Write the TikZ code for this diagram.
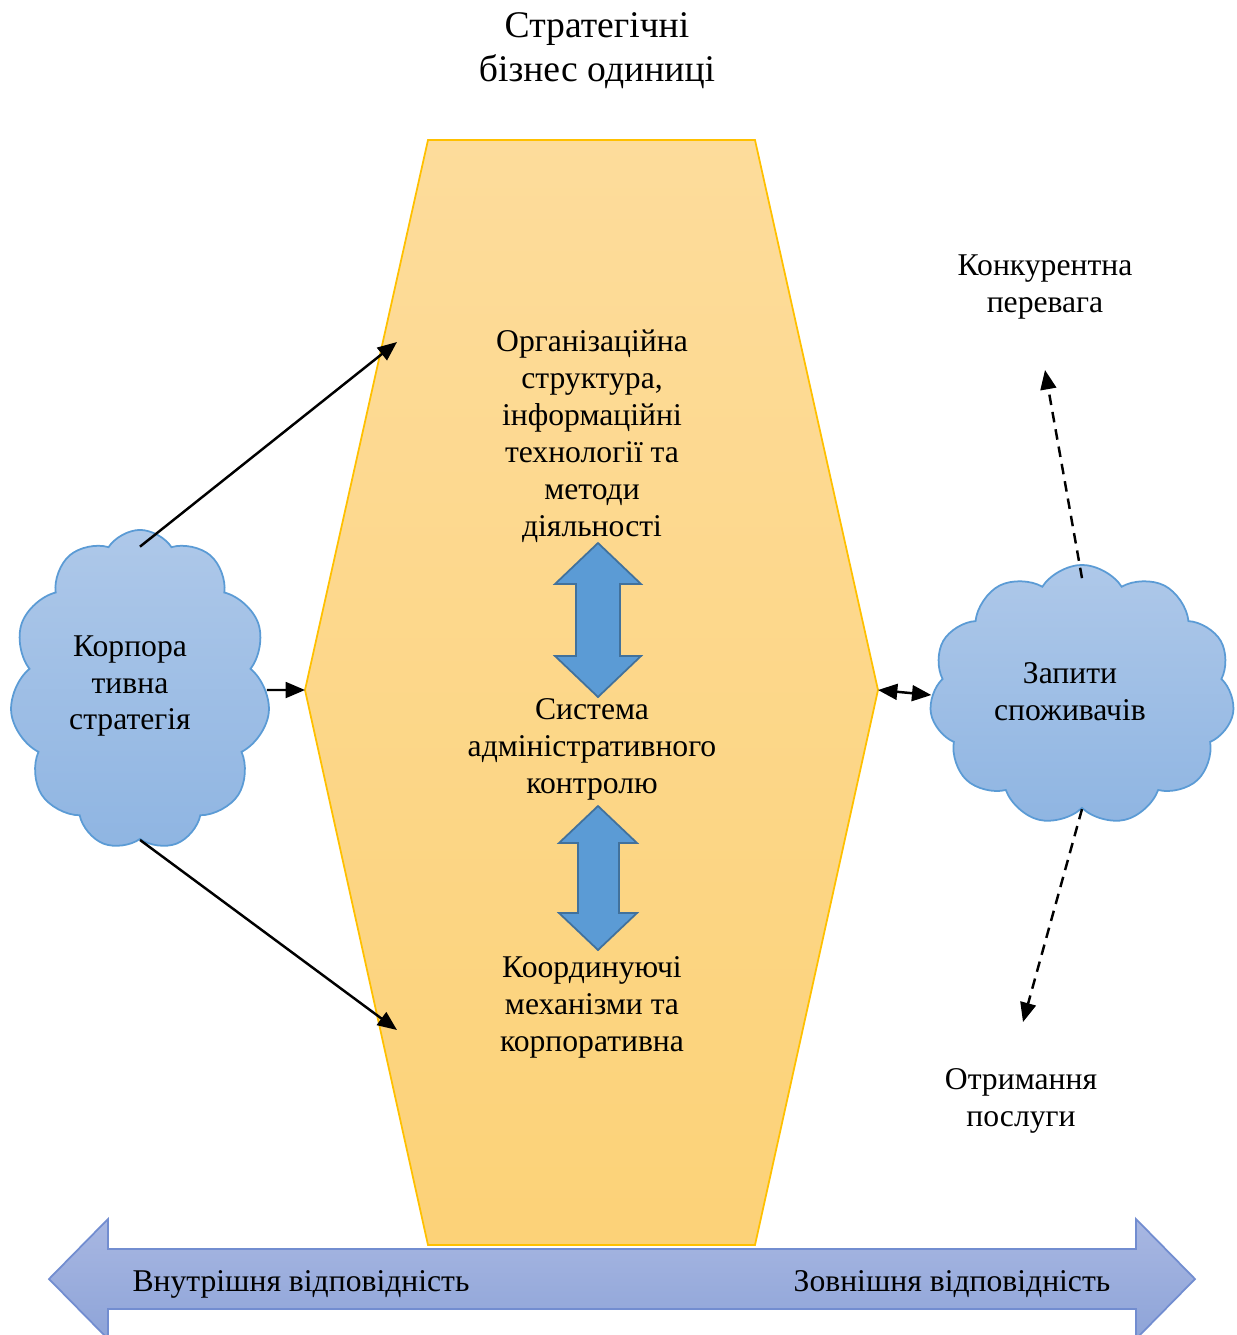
\documentclass[tikz,border=0pt]{standalone}
\usepackage{fontspec}
\setmainfont{Liberation Serif}
\usetikzlibrary{shapes.symbols,arrows.meta}

\definecolor{hexTop}{RGB}{253,220,155}
\definecolor{hexBot}{RGB}{252,210,120}
\definecolor{hexLine}{RGB}{255,192,0}
\definecolor{cloudTop}{RGB}{174,200,233}
\definecolor{cloudBot}{RGB}{143,181,226}
\definecolor{cloudLine}{RGB}{91,155,213}
\definecolor{arrFill}{RGB}{91,155,213}
\definecolor{arrLine}{RGB}{65,113,156}
\definecolor{bandTop}{RGB}{168,183,226}
\definecolor{bandBot}{RGB}{142,164,216}
\definecolor{bandLine}{RGB}{114,141,208}

\begin{document}
\begin{tikzpicture}[x=0.01cm, y=-0.01cm]
	% Стилі
	\tikzstyle{txt} = [align=center, inner sep=0pt, font=\fontsize{9}{10.5}\selectfont]
	\tikzstyle{hmara} = [cloud, cloud puffs=11, cloud puff arc=115, cloud ignores aspect,
		draw=cloudLine, line width=0.5pt, top color=cloudTop, bottom color=cloudBot]
	\tikzstyle{line} = [draw, line width=0.7pt, -{Triangle[length=5.5pt, width=4.5pt]}]
	\tikzstyle{dline} = [line, dash pattern=on 3pt off 2pt]
	\tikzstyle{bluearrow} = [draw=arrLine, fill=arrFill, line width=0.5pt, line join=miter]

	\useasboundingbox (0,0) rectangle (1237,1335);

	% Шестикутник
	\path [draw=hexLine, line width=0.5pt, top color=hexTop, bottom color=hexBot]
		(428,140) -- (755,140) -- (878,690) -- (755,1245) -- (428,1245) -- (305,690) -- cycle;
	\coordinate (hexW) at (305,690);
	\coordinate (hexE) at (878,690);
	\coordinate (hexNW) at (397,342);
	\coordinate (hexSW) at (397,1030);

	% Нижня стрілка
	\path [draw=bandLine, line width=0.5pt, top color=bandTop, bottom color=bandBot]
		(49,1279) -- (108,1219) -- (108,1249) -- (1136,1249) -- (1136,1219) -- (1195,1279)
		-- (1136,1339) -- (1136,1309) -- (108,1309) -- (108,1339) -- cycle;

	% Сині стрілки
	\path [bluearrow] (598,543) -- (641,584) -- (620,584) -- (620,656) -- (641,656) -- (598,697)
		-- (555,656) -- (576,656) -- (576,584) -- (555,584) -- cycle;
	\path [bluearrow] (598,806) -- (637,843) -- (619,843) -- (619,913) -- (637,913) -- (598,950)
		-- (559,913) -- (578,913) -- (578,843) -- (559,843) -- cycle;

	% Хмари
	\node [hmara, minimum width=2.6cm, minimum height=3.2cm] (corp) at (140,690) {};
	\node [hmara, minimum width=3.05cm, minimum height=2.6cm] (zapyty) at (1082,695) {};

	% Тексти
	\node [txt, font=\fontsize{10.7}{12.5}\selectfont] (title) at (597,51) {Стратегічні\\бізнес одиниці};
	\node [txt] (org) at (592,436) {Організаційна\\структура,\\інформаційні\\технології та\\методи\\діяльності};
	\node [txt] (admin) at (592,749) {Система\\адміністративного\\контролю};
	\node [txt] (coord) at (592,1007) {Координуючі\\механізми та\\корпоративна};
	\node [txt] (corptxt) at (130,686) {Корпора\\тивна\\стратегія};
	\node [txt] (zaptxt) at (1070,692) {Запити\\споживачів};
	\node [txt] (konk) at (1045,287) {Конкурентна\\перевага};
	\node [txt] (otrym) at (1021,1101) {Отримання\\послуги};
	\node [txt] (vnutr) at (301,1284) {Внутрішня відповідність};
	\node [txt] (zovn) at (952,1284) {Зовнішня відповідність};

	% З'єднання
	\path [line] ([yshift=-5pt]corp.north) -- (hexNW);
	\path [line] (corp.south) -- (hexSW);
	\path [line] (corp.east) -- (hexW);
	\path [line, {Triangle[length=5.5pt, width=4.5pt]}-{Triangle[length=5.5pt, width=4.5pt]}] (hexE) -- (zapyty.west);
	\path [dline] ([yshift=-4pt]zapyty.north) -- (konk.south |- 0,370);
	\path [dline] (zapyty.south) -- (1023,1022);
\end{tikzpicture}
\end{document}
